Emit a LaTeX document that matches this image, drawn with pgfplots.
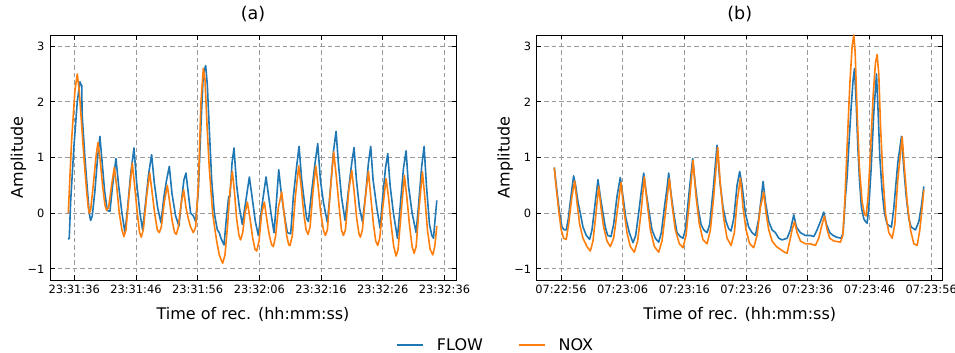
\documentclass[border=0pt]{standalone}
\usepackage{pgfplots}
\pgfplotsset{compat=1.18}
\usepackage{fontspec}
\setmainfont{DejaVu Sans}
\definecolor{tabblue}{HTML}{1F77B4}
\definecolor{taborange}{HTML}{FF7F0E}
\pgfplotsset{
  myaxis/.style={
    scale only axis, width=406pt, height=245pt,
    xmin=-3.93, xmax=61.87, ymin=-1.2, ymax=3.2,
    xtick={0,10,...,60}, ytick={-1,0,1,2,3},
    yticklabels={−1,0,1,2,3},
    tick align=inside, major tick length=4.5pt,
    grid=major,
    grid style={dash pattern=on 4.5pt off 3pt, color=black!40, line width=0.8pt},
    axis line style={line width=0.9pt},
    every tick/.style={black, line width=0.9pt},
    tick label style={font=\fontsize{11.4}{13}\selectfont},
    every x tick label/.append style={yshift=-1.5pt},
    every y tick label/.append style={xshift=-2pt},
    every axis x label/.style={at={(axis description cs:0.5,-0.139)}, anchor=center, font=\fontsize{16}{19}\selectfont},
    every axis y label/.style={at={(axis description cs:-0.0776,0.5)}, rotate=90, anchor=center, font=\fontsize{16}{19}\selectfont},
    title style={at={(axis description cs:0.5,1.0612)}, anchor=center, font=\fontsize{17.5}{20}\selectfont},
    xlabel={Time of rec. (hh:mm:ss)},
    ylabel={Amplitude},
    every axis plot/.append style={line width=1.6pt, line join=round, no markers},
  }
}
\begin{document}
\begin{tikzpicture}
\begin{axis}[myaxis, at={(50pt,73pt)}, anchor=south west, title={(a)},
  xticklabels={23:31:36,23:31:46,23:31:56,23:32:06,23:32:16,23:32:26,23:32:36},
  legend columns=2,
  legend image code/.code={\draw[#1] (0pt,0pt) -- (26pt,0pt); \path (37pt,0pt);},
  legend style={at={(axis description cs:1.0978,-0.2653)}, anchor=center, draw=none, fill=none,
    font=\fontsize{16}{19}\selectfont, /tikz/every even column/.append style={column sep=33pt}},
  legend cell align=left]
\addplot[tabblue] coordinates {
(-0.97,-0.47) (-0.81,-0.45) (-0.59,0.2) (-0.05,1.2) (0.49,2.0) (0.92,2.36) (1.14,2.3) (1.22,2.3) (1.27,1.78) (1.73,1.0) (2.11,0.45) (2.43,0.0) (2.65,-0.13) (2.92,-0.05) (3.35,0.4) (3.78,1.0) (4.16,1.38) (4.49,0.95) (4.92,0.4) (5.35,0.05) (5.78,0.03) (6.22,0.5) (6.76,0.98) (7.19,0.5) (7.73,0.0) (8.22,-0.35) (8.65,0.1) (9.14,0.7) (9.68,1.17) (10.11,0.55) (10.65,0.0) (11.08,-0.3) (11.57,0.2) (12.05,0.7) (12.54,1.05) (12.97,0.55) (13.51,0.1) (14.05,-0.17) (14.54,0.3) (14.97,0.6) (15.41,0.84) (15.84,0.35) (16.43,-0.05) (16.97,-0.23) (17.41,0.25) (17.78,0.6) (18.11,0.72) (18.49,0.35) (18.86,0.0) (19.30,-0.05) (19.68,-0.15) (20.11,0.4) (20.54,1.6) (20.92,2.5) (21.30,2.65) (21.57,2.3) (21.89,1.5) (22.27,0.6) (22.70,0.0) (23.19,-0.3) (23.51,-0.35) (23.78,-0.45) (24.27,-0.57) (24.65,-0.1) (25.03,0.3) (25.24,0.3) (25.57,0.9) (25.89,1.17) (26.32,0.5) (26.76,0.1) (27.24,-0.2) (27.78,0.2) (28.38,0.65) (28.81,0.3) (29.35,-0.15) (29.84,-0.4) (30.38,0.1) (31.08,0.65) (31.51,0.3) (31.95,-0.05) (32.38,-0.35) (32.76,0.2) (33.14,0.78) (33.51,0.4) (34.00,0.0) (34.54,-0.35) (35.08,-0.37) (35.51,0.3) (36.00,0.8) (36.43,1.2) (36.86,0.6) (37.30,0.2) (37.68,-0.1) (37.95,-0.15) (38.49,0.4) (39.03,0.9) (39.46,1.25) (39.89,0.6) (40.38,0.2) (41.03,-0.17) (41.57,0.5) (42.00,1.1) (42.43,1.47) (42.81,0.9) (43.30,0.3) (43.89,-0.13) (44.43,0.4) (44.97,0.9) (45.35,1.18) (45.73,0.6) (46.22,0.1) (46.70,-0.15) (47.19,0.3) (47.68,0.9) (48.05,1.2) (48.43,0.6) (49.03,0.1) (49.57,-0.27) (50.00,0.3) (50.43,0.8) (50.81,1.07) (51.19,0.5) (51.73,0.0) (52.38,-0.45) (52.81,0.1) (53.35,0.8) (53.78,1.12) (54.16,0.5) (54.76,0.0) (55.41,-0.35) (55.84,0.2) (56.32,0.85) (56.70,1.2) (57.08,0.5) (57.57,-0.2) (57.95,-0.4) (58.22,-0.45) (58.49,-0.1) (58.76,0.23)
};
\addlegendentry{FLOW}
\addplot[taborange] coordinates {
(-0.97,0.0) (-0.43,1.3) (0.11,2.2) (0.49,2.5) (0.81,2.2) (1.19,1.6) (1.57,1.0) (2.0,0.4) (2.27,0.1) (2.43,0.0) (2.65,0.05) (3.08,0.5) (3.51,1.0) (3.84,1.27) (4.16,1.0) (4.59,0.5) (4.97,0.15) (5.24,0.05) (5.57,0.1) (6.05,0.5) (6.49,0.82) (6.86,0.5) (7.30,0.0) (7.73,-0.3) (8.05,-0.42) (8.38,-0.3) (8.86,0.3) (9.41,0.9) (9.78,0.5) (10.22,0.0) (10.59,-0.35) (10.86,-0.43) (11.19,-0.3) (11.73,0.3) (12.22,0.73) (12.59,0.4) (13.03,0.0) (13.46,-0.3) (13.78,-0.35) (14.11,-0.25) (14.59,0.2) (15.08,0.5) (15.46,0.2) (15.89,-0.15) (16.27,-0.35) (16.54,-0.38) (16.86,-0.25) (17.30,0.15) (17.73,0.42) (18.11,0.1) (18.49,-0.1) (18.86,-0.25) (19.30,-0.35) (19.68,-0.25) (20.11,0.5) (20.54,2.0) (20.92,2.6) (21.19,2.4) (21.51,1.6) (21.89,0.8) (22.43,0.0) (22.81,-0.3) (23.08,-0.5) (23.51,-0.75) (24.05,-0.9) (24.43,-0.75) (24.86,-0.2) (25.24,0.4) (25.62,0.75) (25.95,0.4) (26.32,-0.1) (26.70,-0.4) (26.97,-0.48) (27.30,-0.35) (27.68,0.0) (28.05,0.2) (28.49,-0.1) (28.92,-0.45) (29.30,-0.65) (29.57,-0.68) (29.95,-0.5) (30.38,0.0) (30.81,0.2) (31.19,-0.1) (31.62,-0.4) (32.00,-0.57) (32.27,-0.6) (32.65,-0.4) (33.08,0.1) (33.62,0.38) (34.00,0.0) (34.43,-0.4) (34.76,-0.57) (34.97,-0.58) (35.35,-0.4) (35.84,0.3) (36.38,0.85) (36.76,0.5) (37.19,0.0) (37.57,-0.3) (37.89,-0.38) (38.22,-0.25) (38.70,0.4) (39.14,0.85) (39.51,0.5) (39.95,0.0) (40.38,-0.3) (40.70,-0.4) (41.03,-0.3) (41.57,0.5) (42.05,1.1) (42.43,0.7) (42.86,0.2) (43.30,-0.3) (43.62,-0.4) (43.95,-0.3) (44.49,0.4) (44.97,0.77) (45.35,0.4) (45.78,-0.1) (46.16,-0.38) (46.38,-0.43) (46.70,-0.3) (47.19,0.3) (47.68,0.75) (48.05,0.3) (48.49,-0.2) (48.86,-0.5) (49.19,-0.58) (49.51,-0.45) (50.00,0.1) (50.54,0.62) (50.92,0.3) (51.35,-0.2) (51.78,-0.6) (52.16,-0.77) (52.49,-0.65) (52.97,0.0) (53.51,0.68) (53.89,0.3) (54.32,-0.2) (54.76,-0.6) (55.08,-0.72) (55.41,-0.6) (55.89,0.1) (56.43,0.74) (56.81,0.3) (57.24,-0.3) (57.68,-0.65) (58.11,-0.75) (58.43,-0.6) (58.76,-0.23)
};
\addlegendentry{NOX}
\end{axis}
\begin{axis}[myaxis, at={(536.7pt,73pt)}, anchor=south west, title={(b)},
  xticklabels={07:22:56,07:23:06,07:23:16,07:23:26,07:23:36,07:23:46,07:23:56}]
\addplot[tabblue] coordinates {
(-1.08,0.82) (-0.76,0.5) (-0.22,0.0) (0.16,-0.25) (0.54,-0.3) (0.86,-0.3) (1.19,-0.1) (1.62,0.3) (2.05,0.67) (2.38,0.5) (2.76,0.2) (3.14,0.0) (3.57,-0.25) (4.11,-0.4) (4.65,-0.47) (5.03,-0.3) (5.46,0.1) (6.0,0.6) (6.38,0.3) (6.81,0.0) (7.19,-0.25) (7.57,-0.4) (8.11,-0.42) (8.54,-0.2) (9.08,0.3) (9.62,0.64) (10.05,0.3) (10.54,-0.1) (11.08,-0.35) (11.68,-0.53) (12.11,-0.4) (12.59,0.0) (13.03,0.4) (13.41,0.72) (13.84,0.35) (14.32,0.0) (14.76,-0.3) (15.30,-0.45) (15.84,-0.52) (16.27,-0.35) (16.76,0.1) (17.19,0.45) (17.46,0.72) (17.84,0.35) (18.27,0.0) (18.81,-0.35) (19.35,-0.42) (19.78,-0.45) (20.16,-0.3) (20.70,0.3) (21.35,0.98) (21.78,0.5) (22.22,0.1) (22.70,-0.2) (23.14,-0.3) (23.68,-0.35) (24.11,-0.2) (24.65,0.4) (25.30,1.22) (25.73,0.6) (26.27,0.1) (26.76,-0.15) (27.19,-0.28) (27.57,-0.32) (28.0,-0.1) (28.54,0.5) (28.97,0.75) (29.35,0.5) (29.89,0.0) (30.43,-0.25) (30.97,-0.35) (31.51,-0.4) (32.05,-0.1) (32.49,0.3) (32.76,0.57) (33.14,0.2) (33.68,-0.15) (34.22,-0.3) (34.76,-0.35) (35.30,-0.45) (35.84,-0.48) (36.65,-0.45) (37.19,-0.3) (37.73,-0.03) (38.16,-0.25) (38.81,-0.35) (39.62,-0.4) (40.43,-0.4) (40.97,-0.42) (41.51,-0.3) (42.05,-0.15) (42.59,0.02) (43.03,-0.2) (43.57,-0.35) (44.11,-0.4) (44.65,-0.43) (45.41,-0.45) (45.73,-0.35) (46.11,0.3) (46.38,0.65) (46.65,1.2) (47.03,1.9) (47.35,2.4) (47.57,2.6) (47.84,2.0) (48.11,1.2) (48.38,0.6) (48.70,0.1) (49.08,-0.1) (49.35,-0.15) (49.62,-0.18) (49.89,0.1) (50.27,0.8) (50.70,1.8) (51.14,2.5) (51.41,1.8) (51.68,1.0) (52.05,0.4) (52.43,0.0) (52.86,-0.2) (53.57,-0.25) (53.95,0.1) (54.59,0.9) (55.19,1.38) (55.57,0.8) (55.95,0.3) (56.38,-0.1) (56.76,-0.25) (57.46,-0.3) (58.0,-0.15) (58.38,0.1) (58.81,0.48)
};
\addplot[taborange] coordinates {
(-1.08,0.82) (-0.76,0.45) (-0.32,0.0) (0.05,-0.3) (0.43,-0.45) (0.86,-0.47) (1.24,-0.2) (1.78,0.3) (2.22,0.58) (2.59,0.2) (3.03,-0.2) (3.57,-0.45) (4.22,-0.6) (4.76,-0.68) (5.19,-0.5) (5.68,0.0) (6.11,0.48) (6.49,0.1) (6.92,-0.25) (7.46,-0.5) (8.0,-0.6) (8.54,-0.45) (9.08,0.0) (9.73,0.55) (10.16,0.1) (10.70,-0.35) (11.24,-0.6) (11.89,-0.7) (12.43,-0.5) (12.97,0.0) (13.51,0.65) (13.95,0.2) (14.49,-0.3) (15.14,-0.6) (15.84,-0.7) (16.38,-0.5) (16.92,0.0) (17.57,0.62) (18.0,0.15) (18.54,-0.3) (19.19,-0.55) (19.78,-0.62) (20.27,-0.4) (20.81,0.2) (21.41,0.95) (21.89,0.3) (22.43,-0.2) (23.03,-0.48) (23.68,-0.55) (24.22,-0.3) (24.76,0.3) (25.41,1.18) (25.84,0.5) (26.38,-0.1) (26.92,-0.45) (27.57,-0.58) (28.11,-0.35) (28.54,0.2) (29.08,0.63) (29.51,0.1) (30.0,-0.3) (30.59,-0.55) (31.24,-0.62) (31.78,-0.4) (32.32,0.1) (32.86,0.38) (33.24,0.0) (33.68,-0.3) (34.22,-0.5) (34.92,-0.6) (35.57,-0.65) (36.22,-0.7) (36.65,-0.72) (37.08,-0.5) (37.46,-0.3) (37.84,-0.15) (38.27,-0.35) (38.81,-0.5) (39.62,-0.55) (40.43,-0.55) (41.24,-0.58) (41.78,-0.45) (42.32,-0.2) (42.70,-0.05) (43.14,-0.3) (43.57,-0.45) (44.22,-0.5) (45.30,-0.52) (45.68,-0.4) (46.0,0.2) (46.38,1.2) (46.81,2.3) (47.19,3.0) (47.46,3.2) (47.68,2.9) (48.0,1.8) (48.38,0.8) (48.81,0.2) (49.19,-0.02) (49.46,-0.05) (49.78,0.3) (50.16,1.1) (50.59,2.1) (50.97,2.7) (51.24,2.85) (51.51,2.5) (51.78,1.6) (52.16,0.7) (52.59,0.0) (53.14,-0.35) (53.68,-0.45) (54.11,-0.2) (54.59,0.6) (55.30,1.37) (55.68,0.8) (56.11,0.2) (56.65,-0.3) (57.19,-0.55) (57.73,-0.58) (58.16,-0.3) (58.54,0.1) (58.81,0.42)
};
\end{axis}
\pgfresetboundingbox
\useasboundingbox (0pt,0pt) rectangle (955pt,353pt);
\end{tikzpicture}
\end{document}
